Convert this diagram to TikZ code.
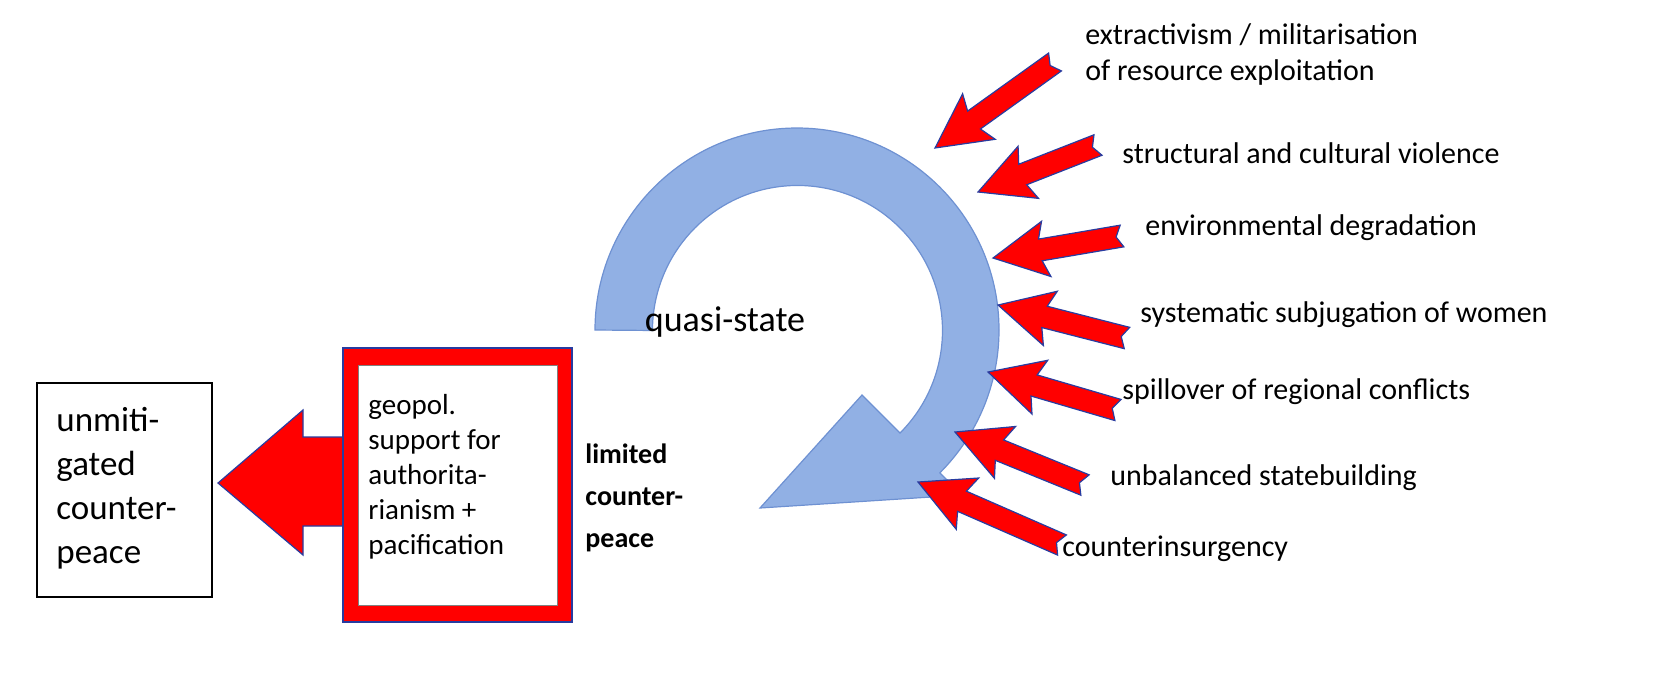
\documentclass[tikz,border=0pt]{standalone}
\usepackage{fontspec}
\setmainfont{Carlito}
\usetikzlibrary{calc}
\begin{document}
\begin{tikzpicture}[x=0.5pt,y=-0.5pt,
  redarr/.style={fill=red,draw={rgb,255:red,40;green,60;blue,160},line width=0.6pt,line join=miter},
  lbl/.style={anchor=west,font=\fontsize{15}{17}\selectfont,inner sep=0pt},
  bluearr/.style={fill={rgb,255:red,145;green,176;blue,228},draw={rgb,255:red,110;green,145;blue,210},line width=0.6pt}]
\useasboundingbox (0,0) rectangle (1653,676);
% curved arrow
\coordinate (c) at (797,330);
\draw[bluearr] (595,330) arc[start angle=180,end angle=-45,x radius=202,y radius=-202]
  -- (962,495) -- (760,508) -- (862,395) -- (900,433)
  arc[start angle=-45,end angle=180,x radius=145,y radius=-145] -- cycle;
\node[font=\fontsize{18}{20}\selectfont] (qs) at (725,322) {quasi-state};
\newcommand{\myRedArrow}[3]{%
  \path (#1) coordinate (#3-tail);
  \path (#2) coordinate (#3-tip);
  \draw[redarr] let \p1=(#3-tail),\p2=(#3-tip),\n1={atan2(\y2-\y1,\x2-\x1)},\n2={veclen(\x2-\x1,\y2-\y1)} in
   [shift={(#3-tail)},rotate=\n1]
   (0pt,-5.5pt) -- ({\n2-24pt},-5.5pt) -- ({\n2-27pt},-14pt) -- ({\n2*1pt},0pt) -- ({\n2-27pt},14pt) -- ({\n2-24pt},5.5pt) -- (0pt,5.5pt) -- (3pt,0pt) -- cycle;}
\myRedArrow{1055,62}{935,148}{a1}
\myRedArrow{1098,145}{978,192}{a2}
\myRedArrow{1122,236}{993,258}{a3}
\myRedArrow{1127,338}{998,305}{a4}
\myRedArrow{1118,410}{988,372}{a5}
\myRedArrow{1085,485}{955,432}{a6}
\myRedArrow{1062,545}{918,482}{a7}
\node[lbl] (t1) at (1085,35) {extractivism / militarisation};
\node[lbl] (t1b) at (1085,72) {of resource exploitation};
\node[lbl] (t2) at (1122,153) {structural and cultural violence};
\node[lbl] (t3) at (1145,228) {environmental degradation};
\node[lbl] (t4) at (1140,315) {systematic subjugation of women};
\node[lbl] (t5) at (1122,392) {spillover of regional conflicts};
\node[lbl] (t6) at (1110,478) {unbalanced statebuilding};
\node[lbl] (t7) at (1062,549) {counterinsurgency};
% left part
\draw[redarr] (343,437) -- (303,437) -- (303,410) -- (218,483) -- (303,555) -- (303,526) -- (343,526) -- cycle;
\draw[black,line width=1pt] (37,383) rectangle (212,597);
\node[anchor=north west,align=left,font=\fontsize{17.5}{22}\selectfont,inner sep=0pt] (um) at (56,407) {unmiti-\\gated\\counter-\\peace};
\fill[red,draw={rgb,255:red,40;green,60;blue,160},line width=0.6pt] (343,348) rectangle (572,622);
\draw[fill=white,draw=gray,line width=0.5pt] (358,365) rectangle (557,605);
\node[anchor=north west,align=left,font=\fontsize{14.5}{17.5}\selectfont,inner sep=0pt] (geo) at (368,394) {geopol.\\support for\\authorita-\\rianism +\\pacification};
\node[anchor=north west,align=left,font=\bfseries\fontsize{14}{21}\selectfont,inner sep=0pt] (lim) at (585,443) {limited\\counter-\\peace};
\end{tikzpicture}
\end{document}
